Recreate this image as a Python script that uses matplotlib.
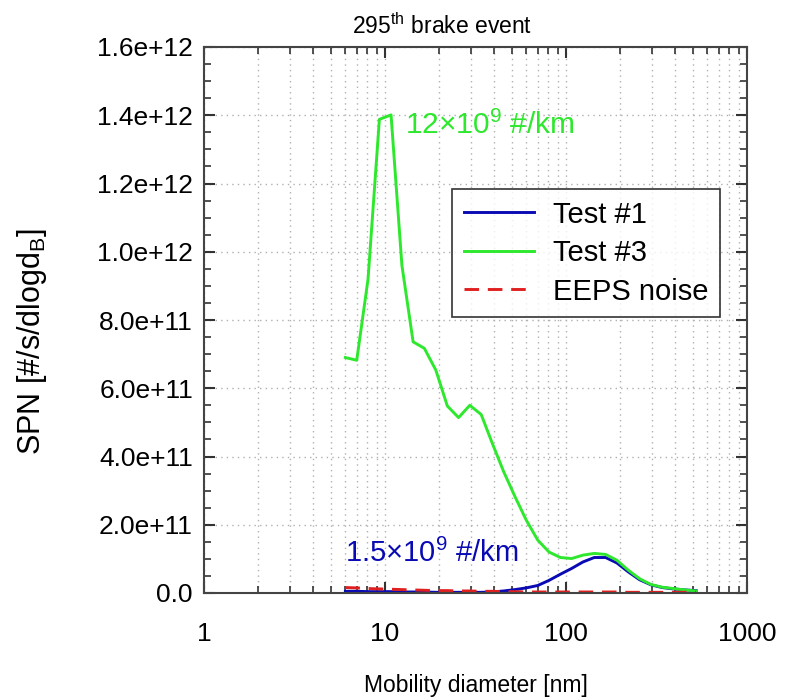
import numpy as np
import matplotlib.pyplot as plt
from matplotlib.ticker import MultipleLocator

plt.rcParams['font.family'] = ['Liberation Sans', 'DejaVu Sans']
plt.rcParams['mathtext.fontset'] = 'custom'
plt.rcParams['mathtext.rm'] = 'Liberation Sans'
plt.rcParams['mathtext.it'] = 'Liberation Sans'

# EEPS channel mid-points [nm]
dp = [6.04, 6.98, 8.06, 9.31, 10.8, 12.4, 14.3, 16.5, 19.1, 22.1, 25.5, 29.4,
      34.0, 39.2, 45.3, 52.3, 60.4, 69.8, 80.6, 93.1, 107.5, 124.1, 143.3,
      165.5, 191.1, 220.7, 254.8, 294.3, 339.8, 392.4, 453.2, 523.3]

# SPN in units of 1e12 #/s/dlogdB
test1 = [0.005, 0.005, 0.004, 0.004, 0.004, 0.003, 0.003, 0.003, 0.002, 0.002,
         0.002, 0.002, 0.002, 0.003, 0.006, 0.010, 0.015, 0.022, 0.037, 0.055,
         0.072, 0.091, 0.104, 0.104, 0.088, 0.062, 0.039, 0.024, 0.016, 0.012,
         0.009, 0.007]
test3 = [0.690, 0.682, 0.920, 1.388, 1.401, 0.960, 0.736, 0.717, 0.653, 0.548,
         0.514, 0.550, 0.523, 0.438, 0.355, 0.282, 0.213, 0.155, 0.120, 0.104,
         0.101, 0.111, 0.116, 0.113, 0.096, 0.067, 0.042, 0.025, 0.017, 0.013,
         0.009, 0.006]
noise = [0.016, 0.015, 0.013, 0.012, 0.011, 0.010, 0.009, 0.008, 0.007, 0.007,
         0.006, 0.006, 0.005, 0.005, 0.004, 0.004, 0.003, 0.003, 0.003, 0.003,
         0.003, 0.003, 0.003, 0.003, 0.003, 0.002, 0.002, 0.002, 0.002, 0.002,
         0.002, 0.002]

ytick_vals = [0, 2e11, 4e11, 6e11, 8e11, 1e12, 1.2e12, 1.4e12, 1.6e12]
ytick_labels = ['0.0', '2.0e+11', '4.0e+11', '6.0e+11', '8.0e+11',
                '1.0e+12', '1.2e+12', '1.4e+12', '1.6e+12']

dp = np.array(dp)
test1 = np.array(test1) * 1e12
test3 = np.array(test3) * 1e12
noise = np.array(noise) * 1e12

fig = plt.figure(figsize=(7.87, 7.0), dpi=100)
ax = fig.add_axes([204/787, 107/700, 543/787, 546/700])

ax.plot(dp, test1, color='#0a0ab4', lw=2.1, label='Test #1')
ax.plot(dp, test3, color='#2de82d', lw=2.1, label='Test #3')
ax.plot(dp, noise, color='#e02020', lw=2.1, ls=(0, (5, 3)), label='EEPS noise')

ax.set_xscale('log')
ax.set_xlim(1, 1000)
ax.set_ylim(0, 1.6e12)
ax.set_xticks([1, 10, 100, 1000])
ax.set_xticklabels(['1', '10', '100', '1000'])
ax.set_yticks(ytick_vals)
ax.set_yticklabels(ytick_labels)
ax.yaxis.set_minor_locator(MultipleLocator(5e10))

ax.tick_params(which='both', direction='in', top=True, right=True,
               labelsize=19, color='#333333')
ax.tick_params(which='major', length=8, width=1.5)
ax.tick_params(which='minor', length=5, width=1.2)
ax.tick_params(axis='x', which='major', pad=21)
ax.tick_params(axis='y', which='major', pad=8)
for s in ax.spines.values():
    s.set_linewidth(1.5)
    s.set_color('#444444')

ax.grid(which='major', axis='both', color='#b0b0b0', ls=(0, (1, 3)), lw=1)
ax.grid(which='minor', axis='x', color='#b0b0b0', ls=(0, (1, 3)), lw=1)

ax.set_title('295$^{\\rm th}$ brake event', fontsize=16.5, x=0.438, pad=9)
ax.set_xlabel('Mobility diameter [nm]', fontsize=16.5, labelpad=20)
ax.set_ylabel('SPN [#/s/dlogd$_{\\rm B}$]', fontsize=22)
ax.yaxis.set_label_coords(-0.285, 0.46)

ax.text(12.9, 1.37e12, '12×10$^{9}$ #/km', color='#2de82d', fontsize=21.5, va='center')
ax.text(6.0, 1.16e11, '1.5×10$^{9}$ #/km', color='#0a0ab4', fontsize=21, va='center')

leg = ax.legend(loc='upper left', bbox_to_anchor=(0.457, 0.74), fontsize=21,
                frameon=True, fancybox=False, edgecolor='black', borderaxespad=0,
                handlelength=2.4, handletextpad=0.65, borderpad=0.4,
                labelspacing=0.36)
leg.get_frame().set_linewidth(1.2)

fig.savefig('out.png', dpi=100)
